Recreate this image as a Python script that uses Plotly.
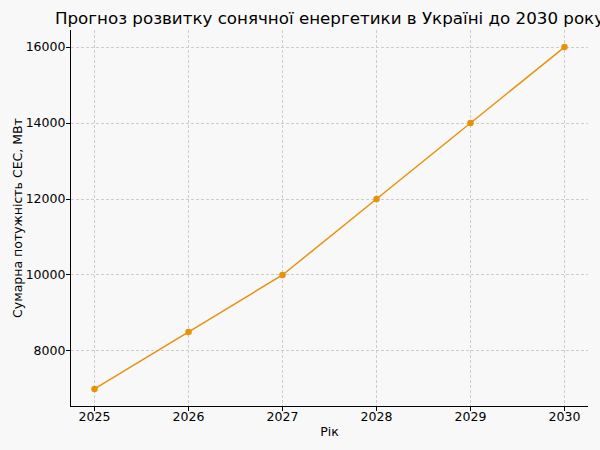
import plotly.graph_objects as go

years = [2025, 2026, 2027, 2028, 2029, 2030]
capacity_mw = [7000, 8500, 10000, 12000, 14000, 16000]
y_ticks = [8000, 10000, 12000, 14000, 16000]

title_text = "Прогноз розвитку сонячної енергетики в Україні до 2030 року"
x_title = "Рік"
y_title = "Сумарна потужність СЕС, МВт"

FONT = "DejaVu Sans"
COLOR = "#E8920A"

fig = go.Figure()
fig.add_trace(go.Scatter(
    x=years, y=capacity_mw, mode="lines+markers",
    line=dict(color=COLOR, width=1.5),
    marker=dict(color=COLOR, size=6.5),
    showlegend=False,
))

axis_common = dict(
    showline=True, linecolor="black", linewidth=1.2,
    ticks="outside", ticklen=4, tickcolor="black", tickwidth=1,
    showgrid=True, gridcolor="#cdcdcd", griddash="3px,2px", gridwidth=0.8,
    zeroline=False, mirror=False, automargin=False,
    tickfont=dict(family=FONT, size=12.5, color="black"),
)

fig.update_layout(
    width=600, height=450,
    margin=dict(l=71, r=12, t=30, b=44),
    paper_bgcolor="#f8f8f8", plot_bgcolor="#f8f8f8",
    font=dict(family=FONT, color="black"),
    title=dict(text=title_text, x=0.5, xref="paper", xanchor="center",
               y=0.96, yref="container", yanchor="middle",
               font=dict(family=FONT, size=16.7, color="black")),
    xaxis=dict(range=[2024.75, 2030.25], tickvals=years,
               ticktext=[str(y) for y in years], ticklabelstandoff=-5,
               title=dict(text=x_title, font=dict(family=FONT, size=12.5), standoff=4),
               **axis_common),
    yaxis=dict(range=[6550, 16450], tickvals=y_ticks,
               ticktext=[str(v) for v in y_ticks], ticklabelstandoff=-2,
               title=dict(text=y_title, font=dict(family=FONT, size=12.5), standoff=0),
               **axis_common),
)

fig.write_html("out.html", config={"displayModeBar": False},
               post_script="document.body.style.margin='0';document.body.style.background='#f8f8f8';")
